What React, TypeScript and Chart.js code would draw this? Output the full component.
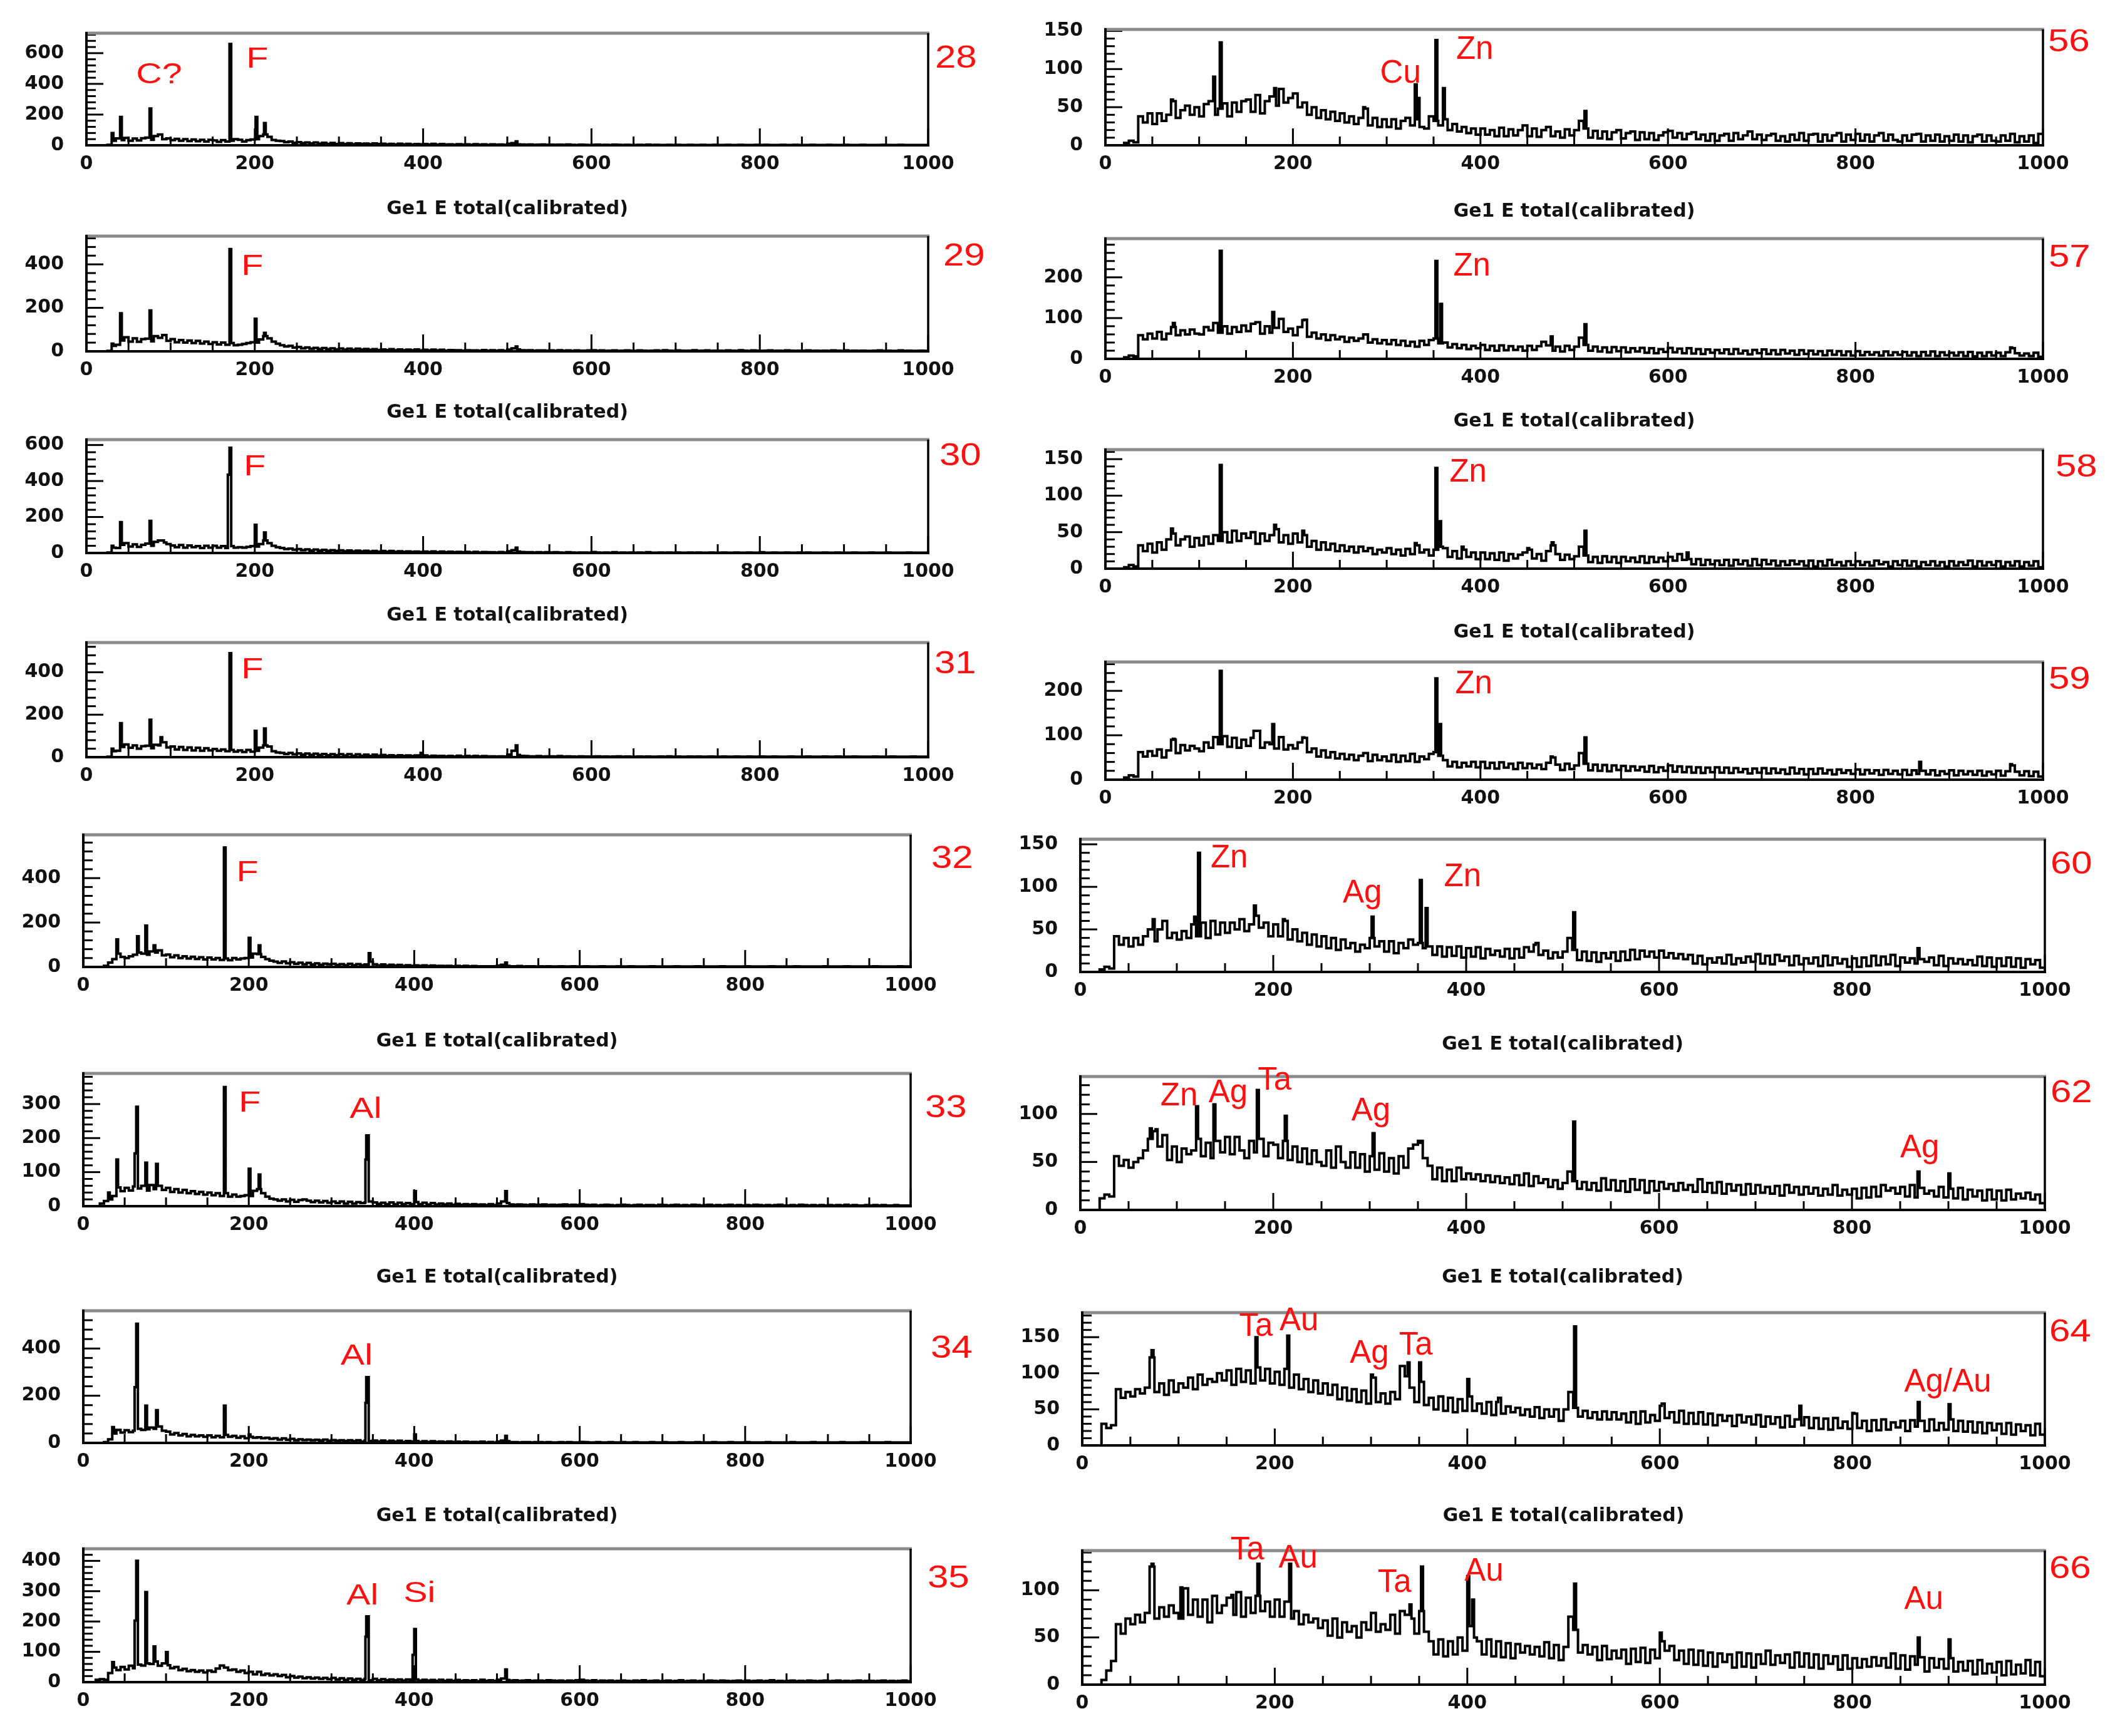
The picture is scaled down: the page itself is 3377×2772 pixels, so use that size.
import React, { useEffect, useRef } from "react";
import { Chart, registerables } from "chart.js";

Chart.register(...registerables);

// ---------- data (counts per 5 keV bin, 0..1000 keV) ----------
const BIN = 5;
const X_TICK_STEP = 200;
const X_MINOR = 50;
const TITLE = "Ge1 E total(calibrated)";

const c28 = [
0,0,0,0,0,3,30,45,34,48,
30,44,32,46,50,36,60,70,40,45,
34,42,30,40,28,38,26,36,24,36,
32,22,34,24,30,40,36,24,34,38,
40,60,70,55,35,30,28,20,24,16,
20,14,18,12,18,10,16,9,15,8,
14,8,13,7,12,9,11,7,12,8,
10,6,9,5,10,6,9,5,8,6,
8,5,9,4,8,5,6,4,7,5,
6,3,7,4,6,3,6,4,5,3,
10,14,6,5,4,5,3,4,5,3,
4,3,4,3,5,3,2,4,3,2,
3,4,2,3,2,4,3,2,3,2,
2,3,2,4,2,3,2,2,3,2,
3,2,2,3,2,2,3,2,2,3,
2,2,3,2,2,3,2,2,2,3,
2,3,2,2,2,3,2,2,3,2,
2,2,3,2,2,2,3,2,2,2,
3,2,2,2,3,2,2,2,2,3,
2,2,2,3,2,2,2,2,2,2];
const p28 = [[30,80],[40,185],[75,240],[170,660],[201,185],[211,145],[510,25]];
const lab28 = [["C?",59,404],["F",190,506]];

const c29 = [
0,0,0,0,0,2,25,30,50,65,
45,60,44,56,58,46,70,62,75,48,
56,42,52,40,50,38,48,36,45,34,
42,32,40,30,38,28,30,34,38,42,
40,55,70,60,45,35,28,22,25,17,
20,14,18,12,16,11,15,10,14,9,
13,8,12,7,12,8,11,7,10,6,
9,6,10,5,9,5,8,5,9,4,
7,4,8,4,7,3,6,5,5,3,
5,4,4,3,6,3,5,3,5,2,
8,14,9,5,4,5,3,4,4,3,
4,3,5,3,4,2,4,3,3,4,
5,3,4,2,3,4,2,3,4,3,
2,4,3,2,3,4,2,5,3,2,
4,3,2,3,5,2,3,4,2,3,
3,2,4,3,2,5,3,2,4,3,
2,3,4,2,3,2,4,3,2,3,
3,4,2,3,2,3,2,4,3,2,
4,2,3,2,3,2,2,3,4,2,
3,2,2,4,2,3,2,2,3,2];
const p29 = [[30,35],[40,175],[75,188],[170,470],[200,150],[211,85],[510,22]];
const lab29 = [["F",184,352]];

const c30 = [
0,0,0,0,0,3,30,28,45,55,
36,48,34,45,52,40,62,70,58,50,
42,32,44,30,42,32,38,28,40,30,
40,30,38,28,38,30,32,30,34,38,
36,50,70,55,40,32,28,22,24,18,
22,16,20,14,19,13,17,12,16,11,
15,10,14,9,13,9,12,8,11,7,
11,7,11,6,10,6,9,6,8,5,
8,5,9,4,8,4,7,4,6,4,
6,3,6,3,5,4,4,3,5,3,
10,16,8,5,4,4,3,4,3,4,
3,4,3,2,4,3,2,3,3,2,
5,3,2,3,2,4,2,3,2,3,
2,3,2,4,2,2,3,2,3,2,
3,2,2,3,2,3,2,2,3,2,
2,3,2,2,3,2,2,3,2,2,
4,2,2,3,2,2,3,2,2,3,
2,3,2,2,2,3,2,2,3,2,
2,2,3,2,2,2,3,2,2,2,
3,2,2,2,2,3,2,2,2,2];
const p30 = [[30,40],[40,171],[75,178],[90,70],[168,435],[170,585],[200,157],[211,114],[510,30]];
const lab30 = [["F",187,430]];

const c31 = [
0,0,0,0,0,2,28,30,48,60,
44,55,40,52,54,42,58,55,70,46,
50,36,48,34,46,32,44,30,42,32,
38,30,36,28,34,26,32,24,34,26,
30,45,55,50,28,22,20,15,20,13,
18,12,17,11,16,10,15,9,14,9,
14,8,14,7,13,7,12,6,12,7,
10,6,9,5,9,6,8,5,8,4,
8,4,7,5,6,4,6,3,7,3,
6,3,6,3,5,4,4,3,4,3,
12,30,10,6,5,4,4,5,3,4,
4,3,5,3,4,3,2,4,3,3,
3,4,2,3,2,3,4,2,3,2,
2,3,2,3,2,2,3,2,4,2,
3,2,2,3,2,3,2,2,3,2,
2,3,2,2,3,2,2,3,2,2,
3,2,2,3,2,2,2,3,2,2,
2,3,2,2,2,3,2,2,3,2,
2,2,3,2,2,2,2,3,2,2,
2,3,2,2,2,2,3,2,2,2];
const p31 = [[30,40],[40,160],[75,176],[88,94],[170,490],[200,124],[211,135],[397,20],[510,55]];
const lab31 = [["F",184,372]];

const c32 = [
0,0,0,0,0,5,20,35,60,45,
40,48,55,65,60,55,70,65,75,52,
56,44,52,40,48,38,46,36,44,34,
42,34,40,32,38,30,40,34,38,40,
42,60,58,45,35,28,24,18,25,16,
21,14,19,12,18,11,16,10,15,12,
14,9,13,8,14,8,13,8,11,24,
12,7,11,6,10,6,9,5,8,5,
7,5,7,4,6,4,5,4,5,3,
5,3,5,3,4,3,3,3,3,3,
6,10,5,3,3,4,2,3,3,2,
3,2,3,2,2,3,2,2,3,2,
2,3,2,2,2,3,2,2,2,3,
2,2,3,2,2,2,2,3,2,2,
2,2,2,3,2,2,2,2,3,2,
2,2,2,2,3,2,2,2,2,2,
3,2,2,2,2,2,3,2,2,2,
2,2,3,2,2,2,2,2,2,3,
2,2,2,2,3,2,2,2,2,2,
2,3,2,2,2,2,2,3,2,2];
const p32 = [[40,124],[65,138],[75,186],[85,97],[170,538],[200,131],[212,97],[345,62],[510,20]];
const lab32 = [["F",185,386]];

const c33 = [
0,0,0,0,8,15,20,30,55,44,
54,46,58,52,60,46,62,50,60,48,
54,42,50,40,48,38,44,36,42,34,
40,32,38,30,38,28,34,28,30,32,
30,45,50,38,28,22,20,16,20,14,
19,13,18,20,16,12,16,11,15,10,
14,9,14,8,13,8,12,9,11,14,
11,7,10,6,11,6,10,6,9,6,
12,6,10,5,9,5,8,5,8,4,
7,4,6,4,6,4,5,3,6,3,
8,14,9,5,4,5,4,3,5,4,
4,5,3,4,3,4,5,3,4,3,
6,4,3,4,2,3,4,3,2,3,
4,3,2,3,4,2,3,3,2,4,
3,2,3,4,2,3,2,4,3,2,
3,4,2,3,2,3,4,2,3,2,
3,2,4,3,2,3,2,3,4,2,
2,3,2,4,3,2,3,2,3,2,
3,2,3,2,4,2,3,2,2,3,
2,3,2,3,2,2,3,2,2,2];
const p33 = [[30,40],[40,137],[62,155],[64,292],[75,128],[88,124],[170,350],[200,110],[212,93],[341,137,1],[342,208,3],[400,44],[510,44]];
const lab33 = [["F",188,278],["Al",322,259]];

const c34 = [
0,0,0,0,0,3,15,40,55,44,
54,46,52,60,55,58,65,60,70,52,
48,36,42,32,38,28,34,28,32,26,
32,24,30,24,34,26,30,22,28,20,
26,22,24,20,22,17,20,14,19,13,
17,11,15,12,14,11,13,10,14,9,
12,9,11,8,11,7,11,6,10,8,
10,6,10,5,9,5,9,4,8,6,
8,4,7,4,7,4,6,3,6,4,
5,3,5,3,4,3,5,2,4,2,
6,10,7,3,3,2,3,3,2,3,
3,2,3,2,2,3,2,3,2,2,
4,3,2,2,3,2,2,3,2,2,
3,2,2,3,2,2,2,3,2,2,
3,2,2,2,3,2,2,2,3,2,
2,2,3,2,2,2,3,2,2,2,
3,2,2,2,2,3,2,2,2,2,
2,3,2,2,2,2,3,2,2,2,
2,2,2,3,2,2,2,2,3,2,
2,2,2,2,3,2,2,2,2,2];
const p34 = [[35,67],[62,236],[64,505],[75,158],[88,139],[170,158],[200,36],[341,170,1],[342,279,3],[400,36],[510,30]];
const lab34 = [["Al",311,332]];

const c35 = [
0,0,0,8,10,8,30,48,40,50,
42,54,46,58,55,62,60,68,54,62,
56,46,50,40,44,36,40,34,38,32,
38,34,45,55,48,40,42,34,38,30,
34,26,34,24,28,22,26,20,24,16,
20,15,18,13,16,12,15,11,14,10,
14,9,13,8,12,8,11,7,11,6,
11,6,10,6,9,6,9,5,9,5,
9,5,8,5,7,4,8,4,7,4,
7,4,6,4,6,3,8,4,6,4,
8,12,7,5,6,4,5,6,4,5,
5,4,6,5,4,5,3,5,4,6,
8,5,4,6,3,5,4,5,3,4,
5,4,3,5,4,6,3,4,5,3,
4,5,3,4,6,3,4,5,3,4,
3,5,4,3,5,4,3,4,5,3,
5,3,4,5,3,4,6,3,4,3,
4,5,3,4,3,5,4,3,4,5,
3,4,5,3,4,3,4,5,3,4,
4,3,4,5,3,4,3,4,5,3];
const p35 = [[35,66],[62,203],[64,400],[75,297],[85,118],[100,99],[341,150,1],[342,217,3],[398,90],[400,175],[510,42]];
const lab35 = [["Al",318,256],["Si",387,264]];

const c56 = [
0,0,0,0,3,6,4,38,30,42,
28,42,32,40,58,36,46,52,40,50,
38,54,58,40,48,55,38,56,44,58,
60,44,66,42,58,64,52,74,56,62,
68,50,56,40,50,36,46,34,44,32,
42,30,38,28,36,48,26,36,24,34,
24,34,22,32,36,26,34,24,22,38,
32,26,34,20,28,18,24,16,22,14,
22,14,20,12,23,12,21,13,20,26,
12,22,11,20,24,12,18,10,21,13,
20,32,22,10,19,9,18,8,17,20,
9,16,18,7,17,8,16,7,13,17,
19,10,16,8,15,17,8,14,6,15,
6,13,15,6,16,8,13,18,8,14,
7,13,15,6,12,5,14,7,16,6,
14,15,5,14,6,13,16,5,14,7,
15,6,14,5,13,16,6,14,7,5,
13,6,14,15,5,13,6,14,5,12,
6,14,5,13,4,12,14,5,13,6,
5,13,6,15,4,12,5,13,3,15];
const p56 = [[70,60],[115,90],[122,135],[180,75],[200,68],[275,50],[330,80],[333,62],[352,138],[360,75],[511,45]];
const lab56 = [["Cu",293,82],["Zn",374,113]];

const c57 = [
0,0,0,0,4,8,6,58,48,62,
50,66,48,62,78,58,70,60,72,62,
60,78,70,88,64,80,62,78,66,82,
68,86,90,62,80,64,76,98,66,74,
58,78,96,54,64,50,60,46,58,48,
54,42,52,44,50,60,40,48,38,46,
36,46,34,44,32,42,30,44,34,46,
50,38,40,28,36,26,34,24,32,26,
34,22,32,20,33,21,31,22,30,20,
32,22,31,42,33,20,30,18,32,22,
30,52,34,20,30,18,28,16,29,19,
28,16,26,18,27,15,26,14,24,17,
27,16,25,14,26,13,24,12,23,15,
22,14,23,12,24,13,20,11,22,14,
23,12,21,11,22,13,20,10,21,12,
20,11,19,9,20,10,19,9,18,8,
19,9,17,10,16,8,18,9,16,10,
17,8,16,7,17,8,18,7,16,9,
15,8,16,7,17,6,15,7,16,8,
15,7,16,26,14,8,13,7,15,5];
const p57 = [[72,88],[122,265],[178,115],[210,95],[275,60],[352,240],[357,135],[475,55],[511,85],[965,28]];
const lab57 = [["Zn",371,205]];

const c58 = [
0,0,0,0,2,5,3,32,24,34,
22,36,26,40,48,32,40,44,30,42,
32,44,34,46,38,50,36,52,38,48,
42,50,34,48,38,46,54,36,46,34,
48,36,46,30,38,26,36,26,34,24,
32,24,30,22,30,24,28,20,26,22,
28,20,26,18,27,20,32,22,26,18,
26,30,28,16,24,14,26,16,22,13,
22,13,21,12,22,11,20,14,19,22,
26,14,20,11,24,32,20,12,19,13,
17,30,18,9,16,8,17,9,16,8,
16,10,15,9,17,8,16,9,15,10,
16,11,20,12,13,6,13,5,12,6,
11,5,12,4,12,6,11,4,13,5,
12,6,11,4,10,5,11,6,10,4,
11,3,10,4,12,5,9,4,10,5,
10,5,9,4,11,6,9,3,10,5,
11,4,10,3,9,5,10,4,9,3,
10,4,9,5,11,3,10,4,9,5,
10,3,9,4,10,3,9,4,10,2];
const p58 = [[70,55],[122,142],[180,60],[210,52],[330,35],[352,138],[356,65],[380,30],[450,28],[476,36],[511,52],[620,22]];
const lab58 = [["Zn",367,119]];

const c59 = [
0,0,0,0,5,10,7,62,52,64,
54,68,50,66,90,60,78,66,76,70,
64,84,72,96,80,98,74,94,72,90,
76,94,110,72,84,80,70,96,68,78,
70,84,94,62,70,52,66,50,62,48,
58,46,56,44,54,60,42,56,44,52,
42,56,40,54,42,58,40,52,46,58,
62,54,44,30,40,28,38,30,40,28,
40,26,38,25,39,27,36,24,38,26,
36,26,34,24,38,50,34,22,36,24,
32,60,36,21,34,20,33,19,32,22,
31,20,30,21,29,18,31,17,28,20,
32,18,30,17,29,16,28,15,27,17,
28,16,27,15,26,17,24,14,25,16,
26,14,25,15,23,13,27,14,24,12,
24,13,25,14,22,12,23,15,21,13,
23,12,22,14,21,11,22,13,20,12,
22,11,21,13,20,12,21,10,19,13,
21,10,20,12,19,11,20,9,18,12,
20,9,19,32,18,10,19,8,18,7];
const p59 = [[72,92],[122,245],[158,110],[178,125],[210,95],[352,228],[356,125],[475,52],[511,95],[868,40],[965,35]];
const lab59 = [["Zn",373,195]];

const c60 = [
0,0,0,0,3,6,4,42,32,40,
30,40,32,42,50,36,50,60,40,46,
38,48,40,56,42,58,40,60,44,58,
46,58,50,62,48,56,66,52,58,42,
56,42,60,38,50,36,46,32,44,30,
42,28,40,26,38,28,34,24,32,28,
40,30,36,24,36,22,34,28,38,32,
34,28,30,20,30,18,29,19,30,17,
28,18,29,16,27,20,25,18,27,16,
27,17,29,24,34,20,25,16,23,17,
24,40,26,14,24,13,23,12,22,16,
23,13,24,14,26,15,25,18,24,17,
25,17,22,16,21,15,20,10,19,9,
16,11,17,10,20,9,16,11,18,12,
21,10,19,9,20,13,18,8,19,9,
16,10,17,7,19,8,17,10,15,6,
16,6,17,7,19,8,18,9,20,7,
17,11,16,10,15,12,17,8,19,7,
16,10,15,9,14,8,18,7,17,6,
16,7,17,6,16,5,15,9,14,5];
const p60 = [[75,62],[118,65],[122,140],[180,78],[210,62],[302,65],[352,108],[358,75],[470,32],[511,70],[868,28]];
const lab60 = [["Zn",135,123],["Ag",272,82],["Zn",377,101]];

const c62 = [
0,0,0,0,12,16,14,56,46,52,
44,50,54,62,74,82,66,78,52,66,
50,64,58,62,74,56,70,54,72,60,
76,58,76,62,54,72,60,74,56,70,
68,54,72,52,66,50,64,48,62,50,
46,62,44,66,50,44,60,44,58,40,
56,42,59,40,54,38,56,44,64,68,
72,54,46,32,44,30,42,30,44,32,
38,32,37,30,36,29,35,28,34,27,
36,26,38,25,35,28,32,24,31,22,
28,40,30,22,29,21,28,20,33,21,
31,20,30,19,32,21,31,18,30,20,
29,22,27,20,28,21,26,19,32,19,
28,18,29,17,27,20,26,16,27,17,
26,18,24,17,25,15,26,18,24,16,
24,17,23,15,22,16,26,15,21,16,
22,12,23,13,24,14,26,20,23,17,
24,14,26,13,23,17,20,14,24,13,
22,12,23,11,21,14,20,10,21,11,
20,10,21,11,17,12,18,11,16,7];
const p62 = [[72,85],[78,84],[120,108],[138,110],[183,125],[212,98],[303,80],[352,70],[511,92],[868,40],[900,38]];
const lab62 = [["Zn",83,109],["Ag",133,112],["Ta",184,125],["Ag",281,93],["Ag",850,55]];

const c64 = [
0,0,0,0,30,24,28,78,66,74,
68,78,72,80,122,74,86,70,90,74,
86,80,94,78,98,84,92,88,100,90,
104,84,106,88,104,86,108,90,106,86,
102,84,106,80,98,78,92,74,90,72,
86,70,84,64,80,62,78,60,76,58,
94,60,72,58,74,64,110,96,80,60,
88,56,66,50,68,48,66,46,64,48,
68,48,58,44,60,42,66,44,54,46,
52,42,50,40,53,38,50,40,50,34,
50,74,52,40,48,38,46,36,47,36,
46,36,44,32,46,30,47,32,42,34,
58,38,46,32,48,30,45,30,46,29,
44,28,42,34,41,27,42,32,40,29,
42,26,40,30,39,25,41,26,36,28,
39,24,38,23,37,22,38,24,33,23,
44,24,34,20,35,21,36,22,32,25,
34,20,35,26,34,20,36,21,31,22,
36,20,34,19,33,18,32,17,31,21,
30,16,31,15,29,20,28,14,30,15];
const p64 = [[72,132],[180,150],[213,152],[300,98],[338,115],[350,115],[400,92],[430,60],[511,165],[600,55],[745,55],[800,45],[868,60],[900,57]];
const lab64 = [["Ta",163,152],["Au",205,160],["Ag",278,115],["Ta",329,126],["Ag/Au",854,75]];

const c66 = [
0,0,0,0,5,15,25,64,54,70,
64,74,66,76,125,70,82,72,84,76,
70,102,74,90,72,90,66,94,76,84,
92,74,98,72,92,76,94,78,88,72,
90,72,88,70,78,64,74,66,70,60,
68,52,70,50,66,56,62,50,66,58,
76,56,64,58,74,54,78,74,70,54,
78,56,46,32,48,30,46,32,50,36,
62,50,46,32,48,30,46,29,44,28,
43,34,41,32,40,30,45,28,42,26,
40,72,58,34,42,32,40,26,41,27,
36,28,37,22,38,24,39,23,37,28,
46,36,41,26,36,22,37,21,36,20,
34,19,33,24,32,18,34,19,33,18,
32,22,36,21,31,23,32,18,34,19,
33,18,32,17,31,22,30,16,31,17,
28,18,27,19,29,20,28,18,33,17,
31,16,30,21,29,14,28,18,27,17,
28,14,24,15,25,11,26,12,22,13,
24,10,25,11,21,12,26,10,24,9];
const p66 = [[72,128],[102,103],[155,95],[182,128],[215,128],[340,85],[352,125],[400,115],[405,90],[511,107],[600,55],[868,50],[900,48]];
const lab66 = [["Ta",154,133],["Au",204,124],["Ta",307,98],["Au",397,110],["Au",854,80]];

// ---------- layout (page pixels) ----------
type Panel = {
  id: string;
  counts: number[];
  peaks: number[][];
  labels: any[];
  yMax: number;
  yStep: number;
  box: number[]; // L, T, R, B
  title: number | null; // title centre below frame bottom
  numDx: number;
  numDy: number;
  left: boolean;
};

const PANELS: Panel[] = [
  { id: "28", counts: c28, peaks: p28, labels: lab28, yMax: 730, yStep: 200, box: [138, 53, 1482, 232], title: 102, numDx: 11, numDy: 41, left: true },
  { id: "29", counts: c29, peaks: p29, labels: lab29, yMax: 530, yStep: 200, box: [138, 377, 1482, 561], title: 98, numDx: 24, numDy: 33, left: true },
  { id: "30", counts: c30, peaks: p30, labels: lab30, yMax: 630, yStep: 200, box: [138, 702, 1482, 883], title: 100, numDx: 18, numDy: 27, left: true },
  { id: "31", counts: c31, peaks: p31, labels: lab31, yMax: 540, yStep: 200, box: [138, 1026, 1482, 1209], title: null, numDx: 10, numDy: 35, left: true },
  { id: "32", counts: c32, peaks: p32, labels: lab32, yMax: 595, yStep: 200, box: [133, 1333, 1454, 1544], title: 119, numDx: 33, numDy: 39, left: true },
  { id: "33", counts: c33, peaks: p33, labels: lab33, yMax: 390, yStep: 100, box: [133, 1714, 1454, 1926], title: 114, numDx: 23, numDy: 56, left: true },
  { id: "34", counts: c34, peaks: p34, labels: lab34, yMax: 560, yStep: 200, box: [133, 2093, 1454, 2304], title: 117, numDx: 32, numDy: 61, left: true },
  { id: "35", counts: c35, peaks: p35, labels: lab35, yMax: 440, yStep: 100, box: [133, 2473, 1454, 2686], title: null, numDx: 27, numDy: 48, left: true },
  { id: "56", counts: c56, peaks: p56, labels: lab56, yMax: 152, yStep: 50, box: [1765, 47, 3262, 232], title: 106, numDx: 8, numDy: 21, left: false },
  { id: "57", counts: c57, peaks: p57, labels: lab57, yMax: 295, yStep: 100, box: [1765, 381, 3262, 573], title: 100, numDx: 9, numDy: 31, left: false },
  { id: "58", counts: c58, peaks: p58, labels: lab58, yMax: 163, yStep: 50, box: [1765, 718, 3262, 908], title: 102, numDx: 20, numDy: 29, left: false },
  { id: "59", counts: c59, peaks: p59, labels: lab59, yMax: 265, yStep: 100, box: [1765, 1057, 3262, 1245], title: null, numDx: 9, numDy: 29, left: false },
  { id: "60", counts: c60, peaks: p60, labels: lab60, yMax: 156, yStep: 50, box: [1725, 1340, 3265, 1552], title: 116, numDx: 9, numDy: 41, left: false },
  { id: "62", counts: c62, peaks: p62, labels: lab62, yMax: 139, yStep: 50, box: [1725, 1719, 3265, 1932], title: 108, numDx: 9, numDy: 27, left: false },
  { id: "64", counts: c64, peaks: p64, labels: lab64, yMax: 184, yStep: 50, box: [1728, 2096, 3265, 2308], title: 113, numDx: 7, numDy: 32, left: false },
  { id: "66", counts: c66, peaks: p66, labels: lab66, yMax: 142, yStep: 50, box: [1728, 2476, 3265, 2690], title: null, numDx: 7, numDy: 30, left: false },
];

const PAD_L = 150;
const PAD_T = 60;
const PAD_R = 120;
const PAD_B = 150;
const TICK_FONT = { family: "'DejaVu Sans', sans-serif", size: 30, weight: "bold" as const };
const TITLE_FONT = { family: "'DejaVu Sans', sans-serif", size: 30, weight: "bold" as const, lineHeight: 1.2 };
const RED = "#ff1010";

function expand(counts: number[], peaks: number[][]) {
  const arr: number[] = [];
  for (let e = 0; e < 1000; e++) arr.push(counts[Math.floor(e / BIN)] ?? 0);
  for (const pk of peaks) {
    const [e, h] = pk;
    const w = pk[2] ?? 2;
    for (let k = 0; k < w; k++) arr[e + k] = h;
  }
  const pts = arr.map((y, e) => ({ x: e, y }));
  pts.push({ x: 1000, y: arr[999] });
  return pts;
}

function line(ctx: CanvasRenderingContext2D, x1: number, y1: number, x2: number, y2: number) {
  ctx.beginPath();
  ctx.moveTo(x1, y1);
  ctx.lineTo(x2, y2);
  ctx.stroke();
}

function PanelChart({ p }: { p: Panel }) {
  const ref = useRef<HTMLCanvasElement>(null);
  const [L, T, R, B] = p.box;
  const w = R - L + PAD_L + PAD_R;
  const h = B - T + PAD_T + PAD_B;

  useEffect(() => {
    const framePlugin = {
      id: "rootFrame" + p.id,
      afterDraw(chart: any) {
        const { ctx, chartArea } = chart;
        const { left, right, top, bottom } = chartArea;
        const xs = chart.scales.x;
        const ys = chart.scales.y;
        ctx.save();
        ctx.strokeStyle = "#000";
        ctx.lineWidth = 3;
        for (let v = 0; v <= 1000; v += X_MINOR) {
          const px = xs.getPixelForValue(v);
          const len = v % X_TICK_STEP === 0 ? 27 : 14;
          line(ctx, px, bottom, px, bottom - len);
        }
        const minor = p.yStep / 5;
        for (let k = 0; k * minor <= p.yMax; k++) {
          const v = k * minor;
          const py = ys.getPixelForValue(v);
          const len = k % 5 === 0 ? 27 : 15;
          line(ctx, left, py, left + len, py);
        }
        // frame
        ctx.strokeStyle = "#8a8a8a";
        ctx.lineWidth = 5;
        line(ctx, left - 2, top, right + 2, top);
        ctx.strokeStyle = "#000";
        ctx.lineWidth = 4;
        line(ctx, left, top - 2, left, bottom + 2);
        line(ctx, left - 2, bottom, right + 2, bottom);
        ctx.lineWidth = 3.5;
        line(ctx, right, top, right, bottom + 2);
        // element labels
        ctx.fillStyle = RED;
        ctx.textAlign = "left";
        ctx.textBaseline = "alphabetic";
        const size = p.left ? 46 : 51;
        const stretch = p.left ? 1.25 : 1.0;
        ctx.font = `${size}px 'Liberation Sans', Arial, sans-serif`;
        for (const [txt, ex, ey] of p.labels) {
          ctx.save();
          ctx.translate(xs.getPixelForValue(ex), ys.getPixelForValue(ey));
          ctx.scale(stretch, 1);
          ctx.fillText(txt, 0, 0);
          ctx.restore();
        }
        // panel number
        ctx.font = `50px 'Liberation Sans', Arial, sans-serif`;
        ctx.textBaseline = "middle";
        ctx.save();
        ctx.translate(right + p.numDx, top + p.numDy);
        ctx.scale(1.2, 1);
        ctx.fillText(p.id, 0, 0);
        ctx.restore();
        ctx.restore();
      },
    };

    const yTicks: number[] = [];
    for (let v = 0; v <= p.yMax; v += p.yStep) yTicks.push(v);
    const xTicks: number[] = [];
    for (let v = 0; v <= 1000; v += X_TICK_STEP) xTicks.push(v);

    const titleHalf = (TITLE_FONT.size * TITLE_FONT.lineHeight) / 2;
    const chart = new Chart(ref.current as HTMLCanvasElement, {
      type: "line",
      data: {
        datasets: [
          {
            data: expand(p.counts, p.peaks),
            borderColor: "#000",
            borderWidth: 4,
            pointRadius: 0,
            stepped: true,
            fill: false,
            tension: 0,
          } as any,
        ],
      },
      options: {
        animation: false,
        responsive: false,
        maintainAspectRatio: false,
        devicePixelRatio: 1,
        events: [],
        layout: { padding: { left: 0, top: PAD_T, right: PAD_R, bottom: 0 } },
        plugins: { legend: { display: false }, tooltip: { enabled: false } },
        scales: {
          x: {
            type: "linear",
            min: 0,
            max: 1000,
            grid: { display: false, drawTicks: false },
            border: { display: false },
            ticks: {
              padding: 12,
              font: TICK_FONT,
              color: "#111",
              maxRotation: 0,
              autoSkip: false,
              callback: (v: any) => String(v),
            },
            afterBuildTicks: (s: any) => {
              s.ticks = xTicks.map((v) => ({ value: v }));
            },
            title: {
              display: p.title !== null,
              text: TITLE,
              color: "#111",
              font: TITLE_FONT,
              padding: { top: 0, bottom: p.title !== null ? PAD_B - p.title - titleHalf : 0 },
            },
            afterFit: (s: any) => {
              s.height = PAD_B;
            },
          },
          y: {
            type: "linear",
            min: 0,
            max: p.yMax,
            grid: { display: false, drawTicks: false },
            border: { display: false },
            ticks: {
              padding: 36,
              font: TICK_FONT,
              color: "#111",
              autoSkip: false,
              callback: (v: any) => String(v),
            },
            afterBuildTicks: (s: any) => {
              s.ticks = yTicks.map((v) => ({ value: v }));
            },
            afterFit: (s: any) => {
              s.width = PAD_L;
            },
          },
        },
      } as any,
      plugins: [framePlugin],
    });
    return () => chart.destroy();
  }, [p]);

  return (
    <canvas
      ref={ref}
      width={w}
      height={h}
      style={{ position: "absolute", left: L - PAD_L, top: T - PAD_T, width: w, height: h }}
    />
  );
}

export default function App() {
  return (
    <div
      style={{
        position: "absolute",
        left: 0,
        top: 0,
        width: 3377,
        height: 2772,
        background: "#fff",
        overflow: "hidden",
      }}
    >
      {PANELS.map((p) => (
        <PanelChart key={p.id} p={p} />
      ))}
    </div>
  );
}
